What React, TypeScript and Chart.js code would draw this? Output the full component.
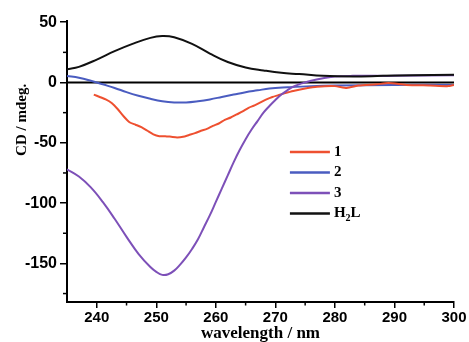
import { useEffect, useRef } from 'react';
import { Chart, registerables } from 'chart.js';

Chart.register(...registerables);

// ---- data ----
const xMajorTicks = [240, 250, 260, 270, 280, 290, 300];
const xMinorTicks = [245, 255, 265, 275, 285, 295];
const yMajorTicks = [50, 0, -50, -100, -150];
const yMinorTicks = [25, -25, -75, -125, -175];

const seriesNames = ['1', '2', '3', 'H2L'];

const s1X = [239.5, 240.5, 241.5, 242.5, 243.5, 244.5, 245.5, 246.5, 247.5, 248.5, 249.5, 250.5, 251.5, 252.5, 253.5, 254.5, 255.5, 256.5, 257.5, 258.5, 259.5, 260.5, 261.5, 262.5, 263.5, 264.5, 265.5, 266.5, 267.5, 268.5, 269.5, 270.5, 271.5, 273, 275, 277, 280, 282, 284, 287, 289, 292, 296, 299, 300];
const s1Y = [-10, -12, -14, -17, -22, -28, -33, -35, -37, -40, -43, -44.5, -44.5, -45, -45.5, -45, -43.5, -42, -40, -38.5, -36, -34, -31, -29, -26.5, -24, -21, -19, -16.5, -14, -12, -10.5, -9, -7, -5, -3.5, -3, -4.5, -2.5, -1.5, -0.5, -2, -2.5, -3, -2];

const s2X = [235, 237, 239, 241, 243, 245, 247, 249, 251, 253, 255, 257, 259, 261, 263, 265, 267, 269, 272, 276, 280, 290, 300];
const s2Y = [5.5, 4, 1.5, -1.5, -4.5, -8, -11, -13.5, -15.5, -16.5, -16.5, -15.5, -14, -12, -10, -8, -6.5, -5, -4, -3, -2.5, -2, -2];

const s3X = [235, 237, 239, 241, 243, 245, 247, 249, 250, 251, 252, 253, 254, 255, 256, 257, 258, 259, 260, 261, 262, 263, 264, 265, 266, 267, 268, 269, 270, 271, 272, 273, 274, 275, 276, 278, 280, 283, 290, 300];
const s3Y = [-72, -78, -87, -99, -113, -128, -142, -153, -157, -159.5, -159, -156, -151, -145, -138, -130, -120, -110, -99, -88, -77, -66, -56, -47, -39, -32, -25, -19.5, -14.5, -10, -6.5, -3.5, -1.5, 0, 1.5, 3.5, 5, 5.5, 5.5, 6];

const h2lX = [235, 237, 240, 243, 246, 249, 251, 253, 256, 259, 262, 265, 268, 271, 274, 278, 283, 288, 293, 300];
const h2lY = [11, 13, 19, 26, 32, 37, 38.5, 37.5, 32, 24, 17, 12.5, 10, 8, 7, 5.5, 5, 5.5, 6, 6.5];

const zeroX = [235, 300];
const zeroY = [0, 0];

const colors = ['#ee5030', '#4a5cc0', '#7d50b8', '#111111'];

const toPts = (xs: number[], ys: number[]) => xs.map((x, i) => ({ x, y: ys[i] }));

const serifBold = '"Liberation Serif", "Times New Roman", serif';
const sansBold = '"Liberation Sans", Arial, sans-serif';

const extrasPlugin = {
  id: 'extras',
  afterDraw(chart: any) {
    const { ctx, chartArea } = chart;
    const xs = chart.scales.x;
    const ys = chart.scales.y;
    ctx.save();
    // minor ticks
    ctx.strokeStyle = '#000';
    ctx.lineWidth = 1.5;
    xMinorTicks.forEach((v) => {
      const px = xs.getPixelForValue(v);
      ctx.beginPath();
      ctx.moveTo(px, chartArea.bottom);
      ctx.lineTo(px, chartArea.bottom + 3.5);
      ctx.stroke();
    });
    yMinorTicks.forEach((v) => {
      const py = ys.getPixelForValue(v);
      ctx.beginPath();
      ctx.moveTo(chartArea.left, py);
      ctx.lineTo(chartArea.left - 4, py);
      ctx.stroke();
    });
    // y title
    ctx.fillStyle = '#000';
    ctx.font = `bold 15px ${serifBold}`;
    ctx.textAlign = 'center';
    ctx.textBaseline = 'middle';
    ctx.translate(22, chartArea.top + (chartArea.bottom - chartArea.top) * 0.352);
    ctx.rotate(-Math.PI / 2);
    ctx.fillText('CD / mdeg.', 0, 0);
    ctx.restore();

    // legend
    ctx.save();
    const w = chartArea.right - chartArea.left;
    const h = chartArea.bottom - chartArea.top;
    const lx0 = chartArea.left + w * 0.576;
    const lx1 = lx0 + 40;
    const ly0 = chartArea.top + h * 0.466;
    const step = 20.5;
    ctx.font = `bold 15px ${serifBold}`;
    ctx.textBaseline = 'middle';
    ctx.textAlign = 'left';
    seriesNames.forEach((name, i) => {
      const y = ly0 + i * step;
      ctx.strokeStyle = colors[i];
      ctx.lineWidth = 2.5;
      ctx.beginPath();
      ctx.moveTo(lx0, y);
      ctx.lineTo(lx1, y);
      ctx.stroke();
      ctx.fillStyle = '#000';
      const tx = lx1 + 4;
      if (name === 'H2L') {
        ctx.font = `bold 15px ${serifBold}`;
        ctx.fillText('H', tx, y);
        const hw = ctx.measureText('H').width;
        ctx.font = `bold 10px ${serifBold}`;
        ctx.fillText('2', tx + hw, y + 5);
        const sw = ctx.measureText('2').width;
        ctx.font = `bold 15px ${serifBold}`;
        ctx.fillText('L', tx + hw + sw, y);
      } else {
        ctx.fillText(name, tx, y);
      }
    });
    ctx.restore();
  },
};

export default function App() {
  const ref = useRef<HTMLCanvasElement | null>(null);
  useEffect(() => {
    if (!ref.current) return;
    const lineDs = (label: string, xs: number[], ys: number[], color: string, order: number, tension: number, width = 2) => ({
      label,
      data: toPts(xs, ys),
      borderColor: color,
      backgroundColor: color,
      borderWidth: width,
      pointRadius: 0,
      tension,
      fill: false,
      order,
    });
    const chart = new Chart(ref.current, {
      type: 'line',
      data: {
        datasets: [
          lineDs('zero', zeroX, zeroY, '#000', 5, 0, 2),
          lineDs(seriesNames[0], s1X, s1Y, colors[0], 3, 0.2),
          lineDs(seriesNames[1], s2X, s2Y, colors[1], 4, 0.4),
          lineDs(seriesNames[2], s3X, s3Y, colors[2], 2, 0.4),
          lineDs(seriesNames[3], h2lX, h2lY, colors[3], 1, 0.4),
        ] as any,
      },
      options: {
        animation: false,
        responsive: false,
        maintainAspectRatio: false,
        layout: { padding: { left: 0, top: 21, right: 15, bottom: 0 } },
        plugins: { legend: { display: false }, tooltip: { enabled: false } },
        scales: {
          x: {
            type: 'linear',
            min: 235,
            max: 300,
            afterBuildTicks: (s: any) => {
              s.ticks = xMajorTicks.map((v) => ({ value: v }));
            },
            afterFit: (s: any) => {
              s.height = 40;
            },
            grid: { drawOnChartArea: false, drawTicks: true, tickLength: 6, color: '#000', lineWidth: 1.5 },
            border: { display: true, color: '#000', width: 2 },
            ticks: {
              color: '#000',
              font: { family: sansBold, size: 15, weight: 'bold' },
              padding: 1,
              maxRotation: 0,
              autoSkip: false,
            },
            title: {
              display: true,
              text: 'wavelength / nm',
              color: '#000',
              font: { family: serifBold, size: 17, weight: 'bold' },
              padding: { top: 0, bottom: -2 },
            },
          },
          y: {
            type: 'linear',
            min: -182,
            max: 51,
            afterBuildTicks: (s: any) => {
              s.ticks = yMajorTicks.map((v) => ({ value: v }));
            },
            afterFit: (s: any) => {
              s.width = 67;
            },
            grid: { drawOnChartArea: false, drawTicks: true, tickLength: 7, color: '#000', lineWidth: 1.5 },
            border: { display: true, color: '#000', width: 2 },
            ticks: {
              color: '#000',
              font: { family: sansBold, size: 16, weight: 'bold' },
              padding: 3,
              autoSkip: false,
            },
          },
        },
      } as any,
      plugins: [extrasPlugin],
    });
    return () => chart.destroy();
  }, []);
  return (
    <div style={{ position: 'absolute', left: 0, top: 0, width: 469, height: 342, background: '#fff' }}>
      <canvas ref={ref} width={469} height={342} />
    </div>
  );
}
